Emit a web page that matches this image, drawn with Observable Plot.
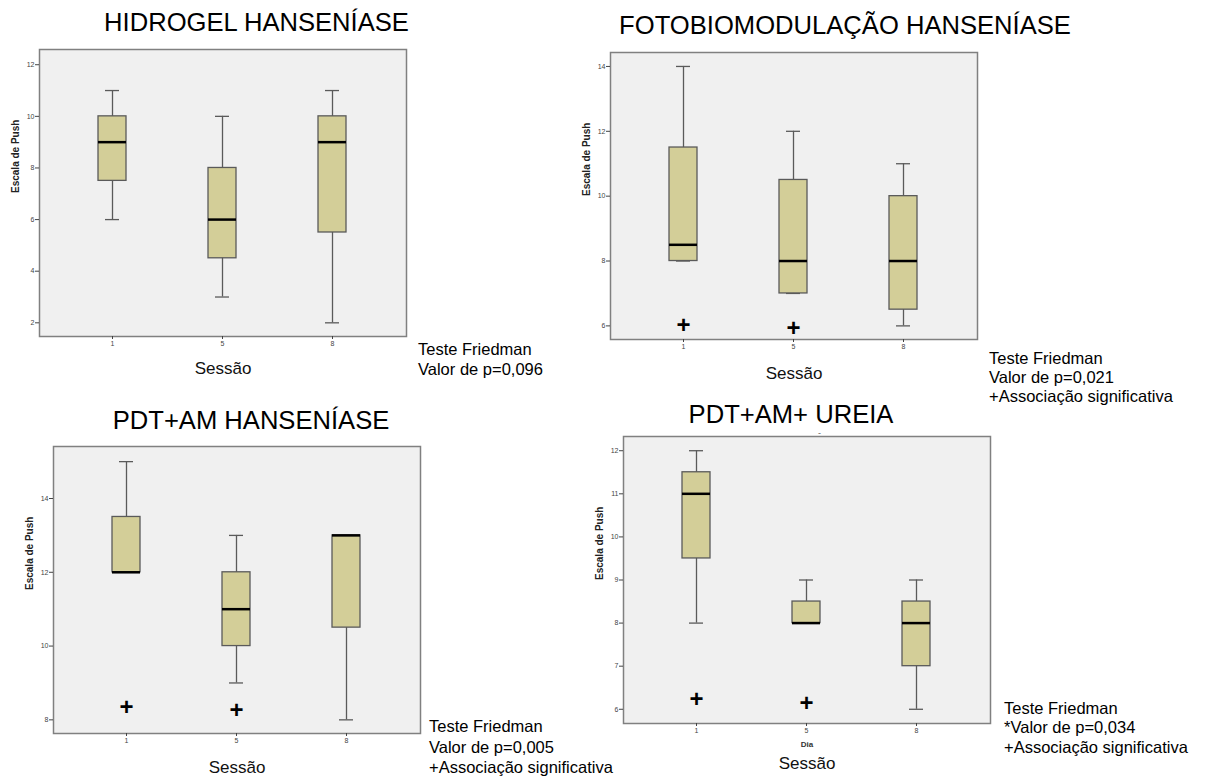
<!DOCTYPE html>
<html><head><meta charset="utf-8">
<script src="https://cdn.jsdelivr.net/npm/d3@7"></script>
<script src="https://cdn.jsdelivr.net/npm/@observablehq/plot@0.6"></script>
<style>
body{margin:0;background:#fff;}
#root{position:relative;width:1211px;height:778px;overflow:hidden;font-family:"Liberation Sans",Arial,sans-serif;}
.t{position:absolute;font-size:25.6px;line-height:1;white-space:nowrap;color:#000;transform:translateX(-50%);}
.n{position:absolute;font-size:16.5px;white-space:pre;color:#000;}
.p{position:absolute;}
.p svg{overflow:visible;}
</style></head><body><div id="root"></div>
<script>
// ---- data ----
const sessoes = ["1", "5", "8"];
const yLabel = "Escala de Push";
const xLabel = "Sessão";

// HIDROGEL HANSENÍASE
const hidMin = [6, 3, 2];
const hidQ1  = [7.5, 4.5, 5.5];
const hidMed = [9, 6, 9];
const hidQ3  = [10, 8, 10];
const hidMax = [11, 10, 11];
const hidOut = [null, null, null];
const hidTicks = [2, 4, 6, 8, 10, 12];

// FOTOBIOMODULAÇÃO HANSENÍASE
const fotoMin = [8, 7, 6];
const fotoQ1  = [8, 7, 6.5];
const fotoMed = [8.5, 8, 8];
const fotoQ3  = [11.5, 10.5, 10];
const fotoMax = [14, 12, 11];
const fotoOut = [6.02, 5.91, null];
const fotoTicks = [6, 8, 10, 12, 14];

// PDT+AM HANSENÍASE
const pdtMin = [12, 9, 8];
const pdtQ1  = [12, 10, 10.5];
const pdtMed = [12, 11, 13];
const pdtQ3  = [13.5, 12, 13];
const pdtMax = [15, 13, 13];
const pdtOut = [8.34, 8.25, null];
const pdtTicks = [8, 10, 12, 14];

// PDT+AM+ UREIA
const ureMin = [8, 8, 6];
const ureQ1  = [9.5, 8, 7];
const ureMed = [11, 8, 8];
const ureQ3  = [11.5, 8.5, 8.5];
const ureMax = [12, 9, 9];
const ureOut = [6.23, 6.14, null];
const ureTicks = [6, 7, 8, 9, 10, 11, 12];

const titles = ["HIDROGEL HANSENÍASE", "FOTOBIOMODULAÇÃO HANSENÍASE", "PDT+AM HANSENÍASE", "PDT+AM+ UREIA"];
const notes1 = ["Teste Friedman", "Valor de p=0,096"];
const notes2 = ["Teste Friedman", "Valor de p=0,021", "+Associação significativa"];
const notes3 = ["Teste Friedman", "Valor de p=0,005", "+Associação significativa"];
const notes4 = ["Teste Friedman", "*Valor de p=0,034", "+Associação significativa"];

// ---- drawing ----
const root = document.getElementById("root");
const ML = 40, MR = 10, MT = 10, MB = 58, W = 367, H = 287;

function panel(cfg) {
  const data = sessoes.map((s, i) => ({
    s, min: cfg.min[i], q1: cfg.q1[i], med: cfg.med[i], q3: cfg.q3[i], max: cfg.max[i], out: cfg.out[i]
  }));
  const grey = "#5a5a5a";
  const marks = [
    Plot.frame({fill: "#f0f0f0", stroke: "none"}),
    Plot.ruleX(data, {x: "s", y1: "min", y2: "max", stroke: grey, strokeWidth: 1.3}),
    Plot.tickY(data, {x: "s", y: "min", stroke: grey, strokeWidth: 1.3, insetLeft: 7, insetRight: 7}),
    Plot.tickY(data, {x: "s", y: "max", stroke: grey, strokeWidth: 1.3, insetLeft: 7, insetRight: 7}),
    Plot.barY(data, {x: "s", y1: "q1", y2: "q3", fill: "#d3ce98", stroke: grey, strokeWidth: 1.3}),
    Plot.tickY(data, {x: "s", y: "med", stroke: "#000", strokeWidth: 2.5}),
    Plot.text(data.filter(d => d.out != null), {x: "s", y: "out", text: () => "+", fontSize: 24, fontWeight: "bold", fill: "#000"}),
    Plot.frame({stroke: "#808080", strokeWidth: 1.5}),
    Plot.axisY({ticks: cfg.ticks, tickFormat: d => String(d), tickSize: 4, tickPadding: 1, fontSize: 7, color: "#444", label: null}),
    Plot.axisX({tickSize: 3, tickPadding: 2, fontSize: 7, color: "#444", label: null}),
    Plot.text([yLabel], {frameAnchor: "left", dx: -24, rotate: -90, fontSize: 10, fontWeight: "bold", fill: "#222"}),
    Plot.text([xLabel], {frameAnchor: "bottom", dy: cfg.xDy, fontSize: 17, fill: "#111"})
  ];
  if (cfg.extra) marks.push(Plot.text([cfg.extra], {frameAnchor: "bottom", dy: 23, fontSize: 8, fontWeight: "bold", fill: "#333"}));
  const chart = Plot.plot({
    width: W + ML + MR, height: H + MT + MB,
    marginLeft: ML, marginRight: MR, marginTop: MT, marginBottom: MB,
    style: {fontFamily: "Liberation Sans, Arial, sans-serif", background: "transparent"},
    x: {type: "band", domain: sessoes, paddingInner: 0.745, paddingOuter: 0.54},
    y: {domain: cfg.domain},
    marks
  });
  const wrap = document.createElement("div");
  wrap.className = "p";
  wrap.style.left = (cfg.fx - ML) + "px";
  wrap.style.top = (cfg.fy - MT) + "px";
  wrap.appendChild(chart);
  root.appendChild(wrap);
}

panel({min: hidMin, q1: hidQ1, med: hidMed, q3: hidQ3, max: hidMax, out: hidOut, ticks: hidTicks,
  domain: [1.47, 12.59], fx: 39, fy: 49, xDy: 37});
panel({min: fotoMin, q1: fotoQ1, med: fotoMed, q3: fotoQ3, max: fotoMax, out: fotoOut, ticks: fotoTicks,
  domain: [5.58, 14.43], fx: 610, fy: 52, xDy: 39});
panel({min: pdtMin, q1: pdtQ1, med: pdtMed, q3: pdtQ3, max: pdtMax, out: pdtOut, ticks: pdtTicks,
  domain: [7.63, 15.41], fx: 53, fy: 446, xDy: 39});
panel({min: ureMin, q1: ureQ1, med: ureMed, q3: ureQ3, max: ureMax, out: ureOut, ticks: ureTicks,
  domain: [5.67, 12.33], fx: 623, fy: 436, xDy: 45, extra: "Dia"});

function title(text, cx, top) {
  const d = document.createElement("div");
  d.className = "t"; d.textContent = text;
  d.style.left = cx + "px"; d.style.top = top + "px";
  root.appendChild(d);
}
title(titles[0], 256.5, 10);
title(titles[1], 845, 13);
title(titles[2], 251, 408);
title(titles[3], 791, 401.5);

function note(lines, left, top, lh) {
  const d = document.createElement("div");
  d.className = "n"; d.textContent = lines.join("\n");
  d.style.left = left + "px"; d.style.top = top + "px"; d.style.lineHeight = lh + "px";
  root.appendChild(d);
}
note(notes1, 418, 338.5, 20);
note(notes2, 989, 348.5, 19);
note(notes3, 429, 716, 20.5);
note(notes4, 1004, 698.5, 19.5);

// small stray mark under the fourth title
const dash = document.createElement("div");
dash.textContent = "-";
dash.style.cssText = "position:absolute;left:818px;top:428.5px;font-size:9px;line-height:8px;color:#666;";
root.appendChild(dash);
</script></body></html>
